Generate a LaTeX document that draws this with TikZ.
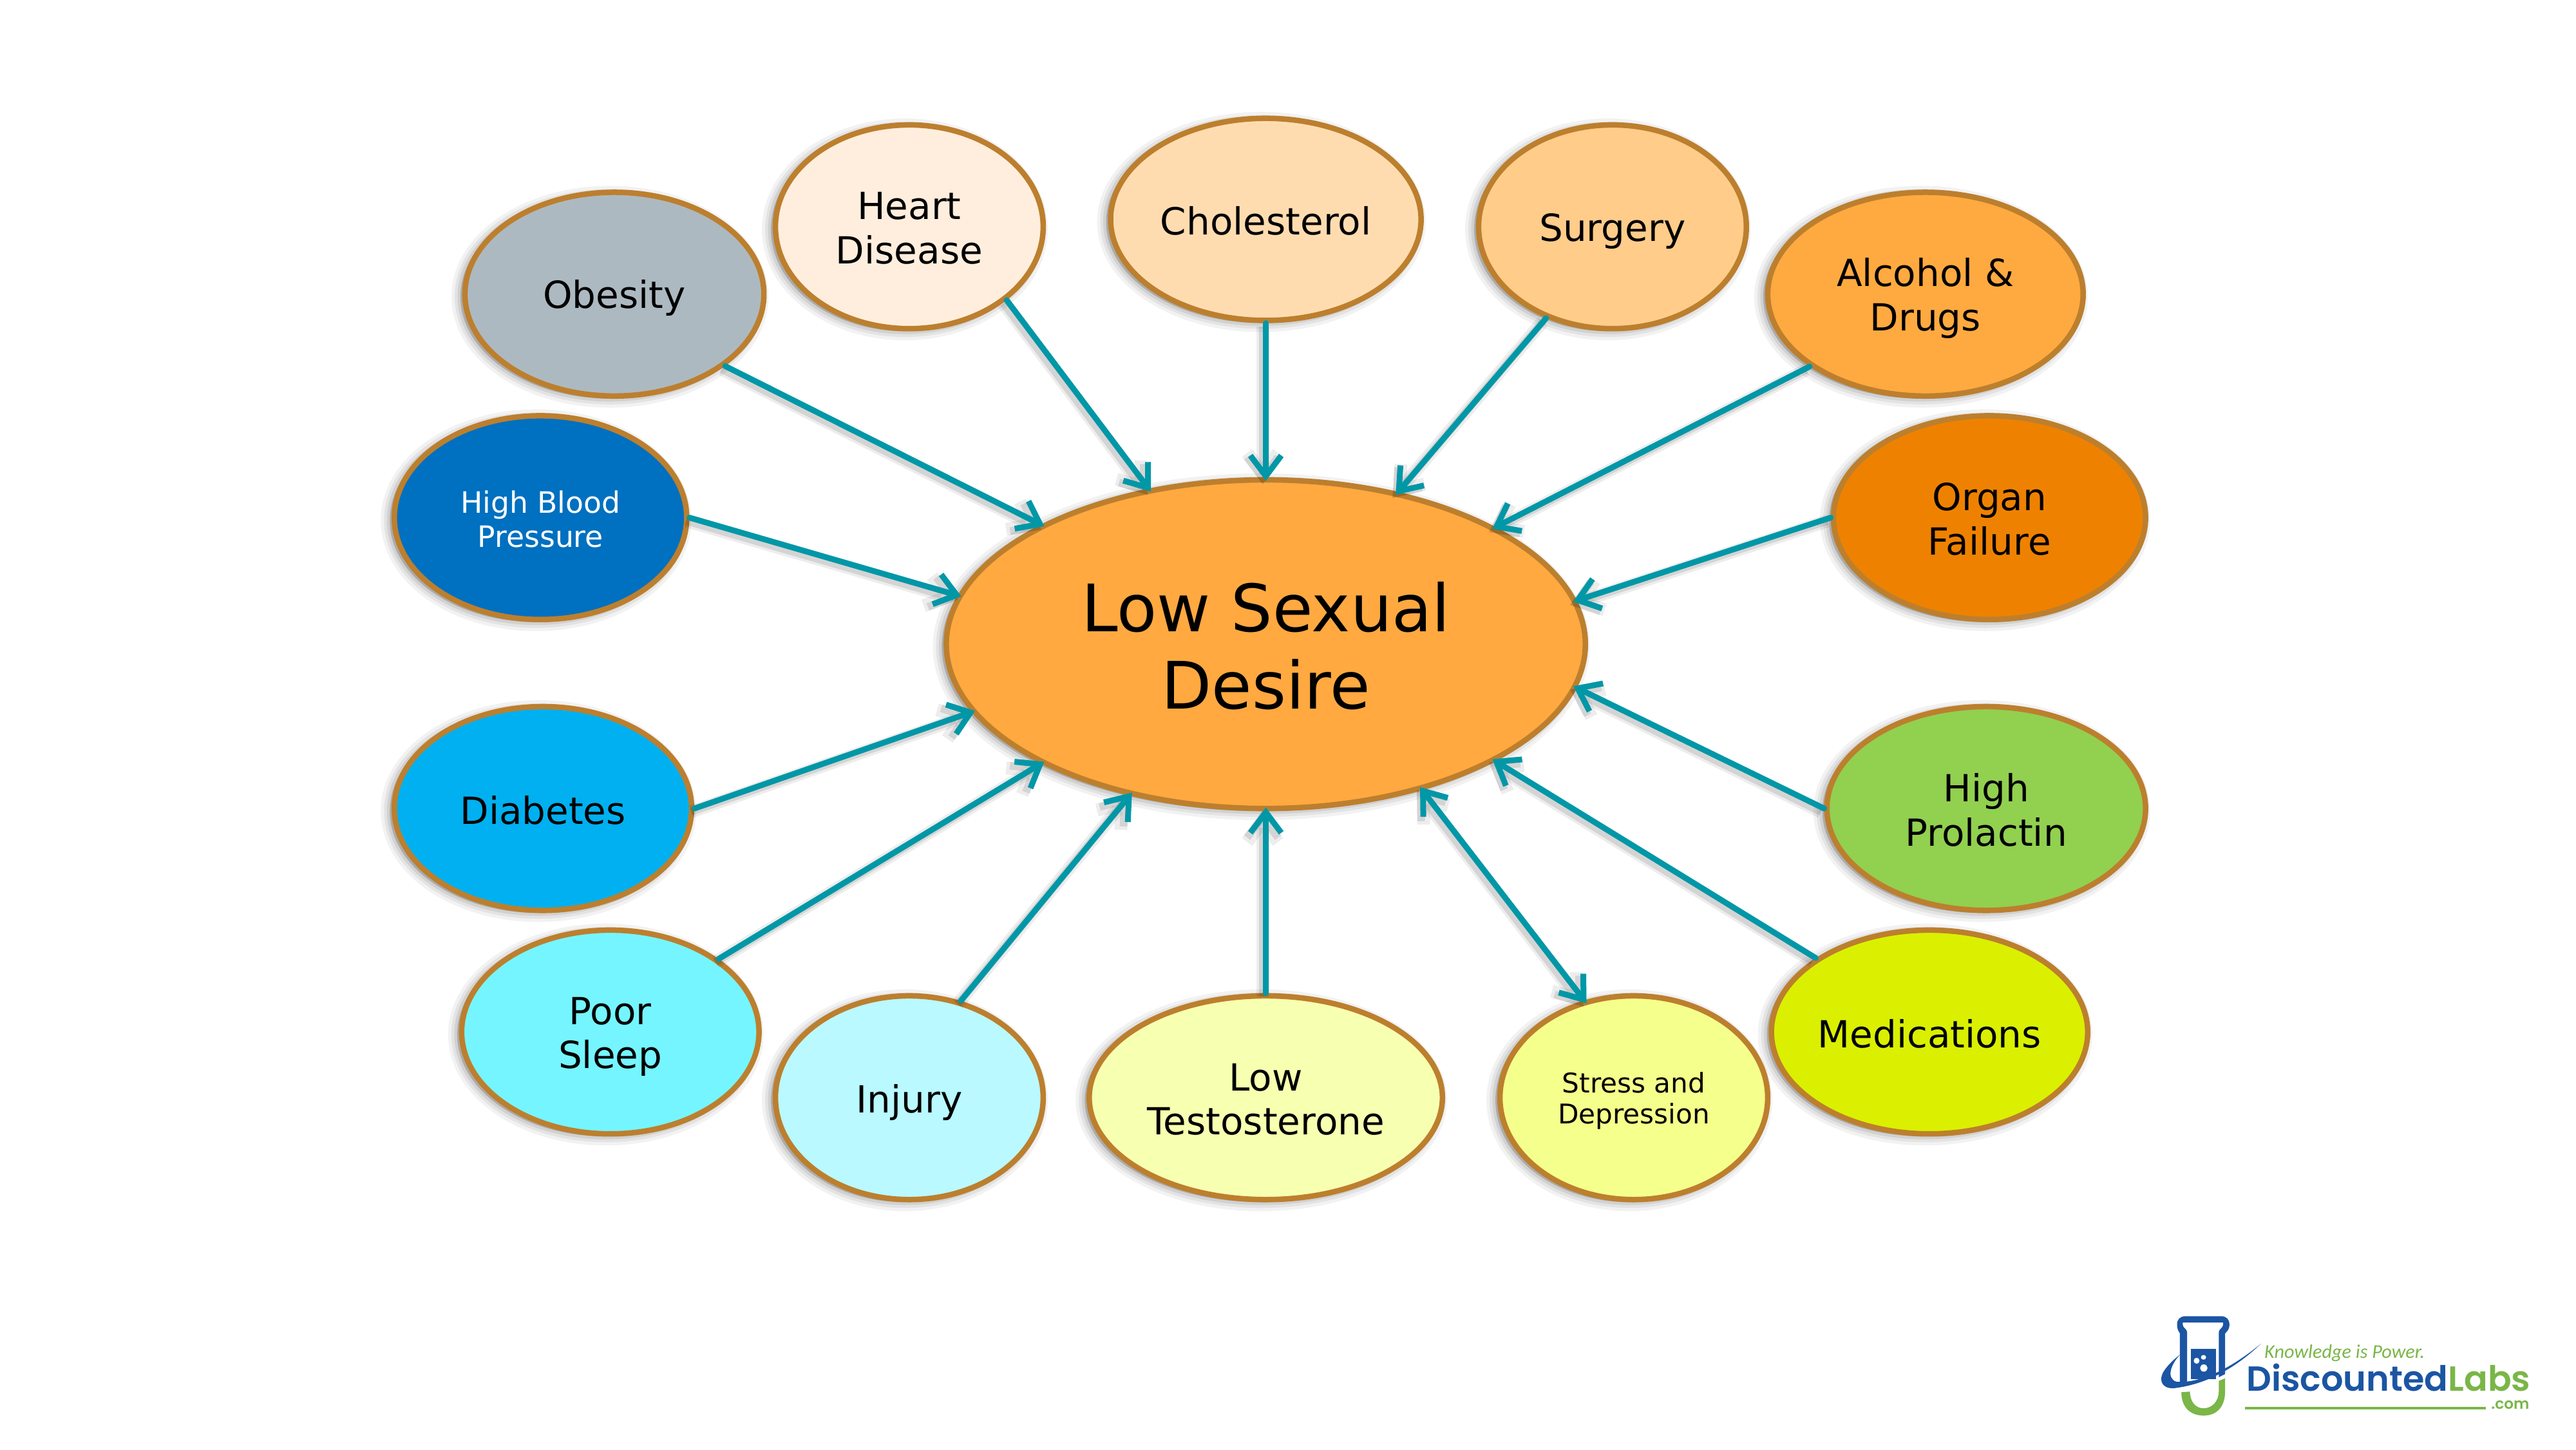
\documentclass[tikz,border=0pt]{standalone}
\usepackage{fontspec}
\setmainfont{DejaVu Sans}
\newfontfamily\logoheavy{Poppins}[UprightFont=* SemiBold]
\newfontfamily\logolight{Carlito}
\usetikzlibrary{shapes.geometric,arrows.meta}
\definecolor{rimbrown}{HTML}{BC7F2E}
\definecolor{arrowteal}{HTML}{0097A7}
\definecolor{logoblue}{HTML}{1B55A3}
\definecolor{logogreen}{HTML}{7AB648}
\definecolor{cCentre}{HTML}{FFA940}
\definecolor{cObesity}{HTML}{ADB9C1}
\definecolor{cHeart}{HTML}{FFEEDD}
\definecolor{cChol}{HTML}{FFDCB0}
\definecolor{cSurgery}{HTML}{FFCC8A}
\definecolor{cAlcohol}{HTML}{FFAA40}
\definecolor{cPressure}{HTML}{0070C0}
\definecolor{cOrgan}{HTML}{EE8200}
\definecolor{cDiabetes}{HTML}{00B0F0}
\definecolor{cProlactin}{HTML}{92D050}
\definecolor{cSleep}{HTML}{75F5FF}
\definecolor{cInjury}{HTML}{B9F9FF}
\definecolor{cLowT}{HTML}{F7FFB0}
\definecolor{cStress}{HTML}{F5FF8B}
\definecolor{cMeds}{HTML}{DAF000}
% lowers one line of a label without changing the size of its node
\newcommand\dn[2]{\raisebox{-#1pt}[\height][\depth]{#2}}
\tikzset{
  softedge/.style={
    preaction={draw=black,fill=black,draw opacity=.05,fill opacity=.05,line width=.28cm,transform canvas={shift={(-.07cm,-.04cm)}}},
    preaction={draw=black,fill=black,draw opacity=.06,fill opacity=.06,line width=.18cm,transform canvas={shift={(-.07cm,-.04cm)}}},
    preaction={draw=black,fill=black,draw opacity=.08,fill opacity=.08,line width=.09cm,transform canvas={shift={(-.07cm,-.04cm)}}}},
  bubble/.style n args={3}{ellipse,softedge,draw=rimbrown,line width=.085cm,inner sep=0pt,align=center,
    minimum width=#1*0.02551cm,minimum height=#2*0.02551cm,fill=#3,text=black},
  normaltext/.style={font=\fontsize{16.5}{19.5}\selectfont},
  linkline/.style={draw=arrowteal,line width=.09cm,line cap=round,shorten >=-.06cm,
    -{Straight Barb[length=3.2mm,width=4.8mm]},
    preaction={draw=black,draw opacity=.07,line width=.2cm,transform canvas={shift={(-.05cm,-.05cm)}}},
    preaction={draw=black,draw opacity=.1,line width=.12cm,transform canvas={shift={(-.05cm,-.05cm)}}}},
  bothways/.style={linkline,shorten <=-.06cm,{Straight Barb[length=3.2mm,width=4.8mm]}-{Straight Barb[length=3.2mm,width=4.8mm]}}
}
\begin{document}
\begin{tikzpicture}[x=0.02551cm,y=-0.02551cm]
\fill[white] (0,0) rectangle (1568,882);
\useasboundingbox (0,0) rectangle (1568,882);

% central idea
\node[bubble={389}{200}{cCentre},font=\fontsize{28.9}{34}\selectfont] (centre) at (770.5,392) {\dn{.7}{Low Sexual}\\\dn{.7}{Desire}};

% upper ring
\node[bubble={182}{124}{cObesity},normaltext] (obesity) at (374,179) {\dn{1.8}{Obesity}};
\node[bubble={163}{124}{cHeart},normaltext] (heart) at (553.5,138) {\dn{.7}{Heart}\\\dn{.7}{Disease}};
\node[bubble={189}{123}{cChol},normaltext] (chol) at (770.5,133.5) {\dn{.7}{Cholesterol}};
\node[bubble={163}{124}{cSurgery},normaltext] (surgery) at (981.5,138) {\dn{2.1}{Surgery}};
\node[bubble={192}{124}{cAlcohol},normaltext] (alcohol) at (1172,179) {\dn{1.8}{Alcohol \&}\\\dn{1.8}{Drugs}};

% sides
\node[bubble={178}{124}{cPressure},text=white,font=\fontsize{13}{15.2}\selectfont] (pressure) at (329,315) {\dn{.7}{High Blood}\\\dn{.7}{Pressure}};
\node[bubble={190}{124}{cOrgan},normaltext] (organ) at (1211,315) {\dn{.7}{Organ}\\\dn{.7}{Failure}};
\node[bubble={181}{124}{cDiabetes},normaltext] (diabetes) at (330.5,492) {\dn{.7}{Diabetes}};
\node[bubble={194}{124}{cProlactin},normaltext] (prolactin) at (1209,492) {\dn{.7}{High}\\\dn{.7}{Prolactin}};

% lower ring
\node[bubble={181}{124}{cSleep},normaltext] (sleep) at (371.5,628) {\dn{2.1}{Poor}\\\dn{2.1}{Sleep}};
\node[bubble={163}{124}{cInjury},normaltext] (injury) at (553.5,668) {\dn{2.1}{Injury}};
\node[bubble={215}{124}{cLowT},normaltext] (lowt) at (770.5,668) {\dn{.7}{Low}\\\dn{.7}{Testosterone}};
\node[bubble={163}{124}{cStress},font=\fontsize{12}{13.7}\selectfont] (stress) at (994.5,668) {\dn{1.4}{Stress and}\\\dn{1.4}{Depression}};
\node[bubble={191}{124}{cMeds},normaltext] (meds) at (1174.5,628) {\dn{.7}{Medications}};

% connectors
\draw[linkline] (obesity.-33.7) -- (centre.152.9);
\draw[linkline] (heart.-37.4) -- (centre.127.2);
\draw[linkline] (chol.-90) -- (centre.90);
\draw[linkline] (surgery.-126.5) -- (centre.49.9);
\draw[linkline] (alcohol.-148.1) -- (centre.27.1);
\draw[linkline] (organ.180) -- (centre.8.4);
\draw[linkline] (pressure.0) -- (centre.171.7);
\draw[linkline] (diabetes.0) -- (centre.-167.9);
\draw[linkline] (prolactin.180) -- (centre.-8);
\draw[linkline] (sleep.34.9) -- (centre.-152.7);
\draw[linkline] (injury.62.3) -- (centre.-132.2);
\draw[linkline] (lowt.90) -- (centre.-90);
\draw[bothways] (stress.117.7) -- (centre.-43.3);
\draw[linkline] (meds.147.3) -- (centre.-27.1);

% company mark, lower right corner
\begin{scope}[shift={(1293.6,784)},x=0.004464cm,y=-0.003333cm]
  % flask foot
  \fill[logogreen] (195,485) .. controls (195,560) and (230,594) .. (272,594)
     .. controls (320,594) and (347,550) .. (347,480) -- (347,420) -- (325,432) -- (325,480)
     .. controls (325,530) and (300,560) .. (272,560) .. controls (245,560) and (225,530) .. (225,482) -- cycle;
  % flask body and rim
  \fill[logoblue,even odd rule]
     (180,170) .. controls (180,145) and (190,130) .. (210,130) -- (332,130)
     .. controls (352,130) and (362,145) .. (362,170) .. controls (362,195) and (350,205) .. (347,210)
     -- (347,400) -- (325,415) -- (325,205) .. controls (325,190) and (340,185) .. (340,170) -- (340,160) -- (200,160) -- (200,170)
     .. controls (200,185) and (215,190) .. (215,205) -- (215,440) -- (190,440) -- (190,210)
     .. controls (185,200) and (180,190) .. (180,170) -- cycle;
  \fill[logoblue] (227,283) rectangle (315,425);
  \fill[white] (248,338) ellipse (10 and 14);
  \fill[white] (272,322) ellipse (9 and 11);
  \fill[white] (273,372) ellipse (13 and 17);
  % swoosh
  \fill[logoblue] (472,258) .. controls (400,350) and (300,445) .. (170,466)
     .. controls (125,470) and (115,425) .. (135,385) .. controls (150,355) and (170,330) .. (192,308)
     .. controls (160,350) and (140,420) .. (178,436) .. controls (270,445) and (380,360) .. (472,258) -- cycle;
  % wordmark
  \node[anchor=base west,inner sep=0pt,text=logogreen,font=\logolight\itshape\fontsize{8.6}{10}\selectfont] (motto) at (482,325) {Knowledge is Power.};
  \node[anchor=base west,inner sep=0pt,font=\logoheavy\fontsize{15.4}{17}\selectfont] (brand) at (420,478) {\textcolor{logoblue}{Discounted}\textcolor{logogreen}{Labs}};
  \node[anchor=base east,inner sep=0pt,text=logogreen,font=\logoheavy\fontsize{6.6}{8}\selectfont] (dotcom) at (1405,565) {.com};
  \fill[logogreen] (415,554) rectangle (1252,565);
\end{scope}
\end{tikzpicture}
\end{document}
